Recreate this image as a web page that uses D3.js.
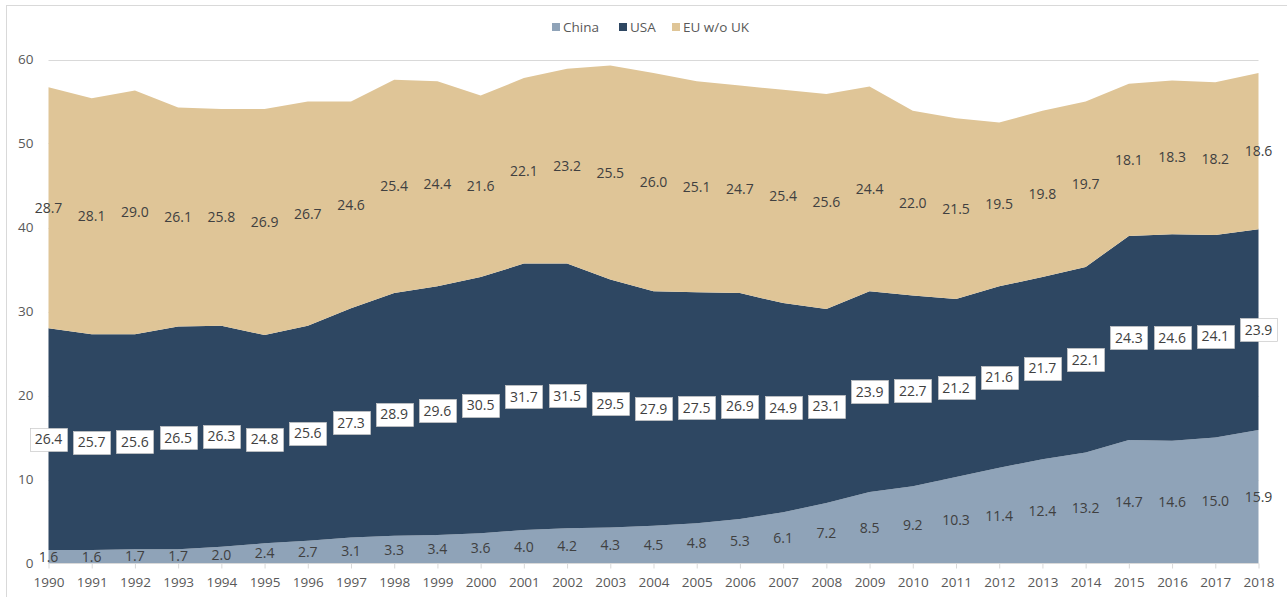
<!DOCTYPE html>
<html><head><meta charset="utf-8">
<script src="https://cdn.jsdelivr.net/npm/d3@7"></script>
<style>
body{margin:0;background:#fff;}
text{font-family:"Open Sans","Liberation Sans",sans-serif;}
</style></head>
<body><svg id="c" width="1287" height="597"></svg>
<script>
const years = [1990,1991,1992,1993,1994,1995,1996,1997,1998,1999,2000,2001,2002,2003,2004,2005,2006,2007,2008,2009,2010,2011,2012,2013,2014,2015,2016,2017,2018];
const china = [1.6,1.6,1.7,1.7,2.0,2.4,2.7,3.1,3.3,3.4,3.6,4.0,4.2,4.3,4.5,4.8,5.3,6.1,7.2,8.5,9.2,10.3,11.4,12.4,13.2,14.7,14.6,15.0,15.9];
const usa = [26.4,25.7,25.6,26.5,26.3,24.8,25.6,27.3,28.9,29.6,30.5,31.7,31.5,29.5,27.9,27.5,26.9,24.9,23.1,23.9,22.7,21.2,21.6,21.7,22.1,24.3,24.6,24.1,23.9];
const eu = [28.7,28.1,29.0,26.1,25.8,26.9,26.7,24.6,25.4,24.4,21.6,22.1,23.2,25.5,26.0,25.1,24.7,25.4,25.6,24.4,22.0,21.5,19.5,19.8,19.7,18.1,18.3,18.2,18.6];
const seriesNames = ["China","USA","EU w/o UK"];
const yTicks = [0,10,20,30,40,50,60];
const colors = ["#8fa3b8","#2e4762","#dfc597"];

const svg = d3.select("#c");
svg.append("rect").attr("x",6.5).attr("y",5.5).attr("width",1290).attr("height",600)
  .attr("fill","#fff").attr("stroke","#d9d9d9");

const x = d3.scaleLinear().domain([1990,2018]).range([48.5,1258.5]);
const y = d3.scaleLinear().domain([0,60]).range([563.5,59.5]);

// gridlines
svg.append("g").selectAll("line").data(yTicks.slice(1)).join("line")
  .attr("x1",48.5).attr("x2",1258.5).attr("y1",d=>Math.round(y(d))+0.5).attr("y2",d=>Math.round(y(d))+0.5)
  .attr("stroke","#d9d9d9");

const table = years.map((yr,i)=>({year:yr, China:china[i], USA:usa[i], "EU w/o UK":eu[i]}));
const stack = d3.stack().keys(seriesNames)(table);
const area = d3.area().x(d=>x(d.data.year)).y0(d=>y(d[0])).y1(d=>y(d[1]));
svg.append("g").selectAll("path").data(stack).join("path")
  .attr("d",area).attr("fill",(d,i)=>colors[i]);

// x axis
const xAxis = d3.axisBottom(x).tickValues(years).tickFormat(d3.format("d")).tickSize(5).tickPadding(9);
const gx = svg.append("g").attr("transform","translate(0,563.5)").call(xAxis);
gx.select(".domain").attr("stroke","#d9d9d9").attr("d","M48.5,0H1258.5");
gx.selectAll(".tick line").attr("stroke","#d9d9d9");
gx.selectAll(".tick text").attr("fill","#595959").style("font-size","13.5px").attr("dy","0.71em");

// y axis
const yAxis = d3.axisLeft(y).tickValues(yTicks).tickSize(0).tickPadding(15);
const gy = svg.append("g").attr("transform","translate(48.5,0)").call(yAxis);
gy.select(".domain").remove();
gy.selectAll(".tick text").attr("fill","#595959").style("font-size","13.5px");

// labels
const fmt = d3.format(".1f");
stack.forEach((s,si)=>{
  const g = svg.append("g");
  s.forEach(d=>{
    const cx = x(d.data.year), cy = y((d[0]+d[1])/2);
    const val = d[1]-d[0];
    if(si===1){
      g.append("rect").attr("x",Math.round(cx-18.5)+0.5).attr("y",Math.round(cy-11.5)+0.5)
        .attr("width",37).attr("height",23).attr("fill","#fff").attr("stroke","#c8c8c8").attr("stroke-width",0.7);
    }
    g.append("text").attr("x",cx).attr("y",cy).attr("dy","0.36em").attr("text-anchor","middle")
      .attr("fill","#404040").style("font-size","14px").text(fmt(val));
  });
});

// legend
const legX = [552,619,672];
const leg = svg.append("g");
seriesNames.forEach((n,i)=>{
  leg.append("rect").attr("x",legX[i]).attr("y",23).attr("width",8).attr("height",8).attr("fill",colors[i]);
  leg.append("text").attr("x",legX[i]+11).attr("y",27).attr("dy","0.35em").attr("fill","#595959")
    .style("font-size","13.5px").text(n);
});
</script></body></html>
